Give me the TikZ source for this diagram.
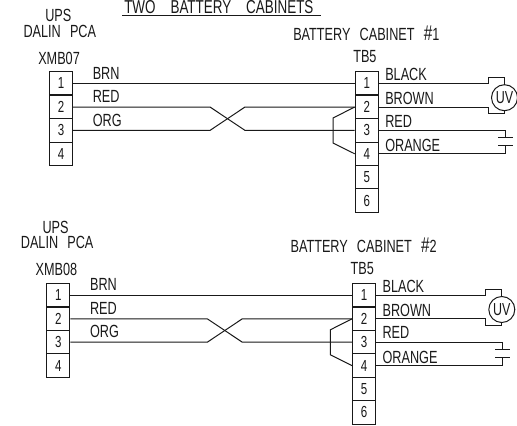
\documentclass[tikz,border=0pt]{standalone}
\usepackage{fontspec}
\setmainfont[FakeStretch=0.72]{Liberation Sans}
\newcommand{\wgap}{\hspace{0.52em}}
\tikzset{
  x=0.75pt,y=-0.75pt,
  wire/.style={line width=0.75pt,black!90},
  cell/.style={draw,line width=0.75pt,black!90,minimum width=17.2pt,minimum height=17.55pt,inner sep=0pt,font=\fontsize{12}{12}\selectfont},
  lab/.style={anchor=base west,inner sep=0pt,text=black!90,font=\fontsize{13.2}{13.2}\selectfont},
  meter/.style={circle,draw,line width=0.75pt,black!90,minimum size=19.5pt,inner sep=0pt,font=\fontsize{13}{13}\selectfont},
}
\newcommand{\wiring}[4]{% shift x, shift y, connector, cabinet number
\begin{scope}[shift={(#1,#2)}]
  \node[lab] (ups#4) at (45,21.7) {UPS};
  \node[lab] (dalin#4) at (23.3,37) {DALIN\wgap PCA};
  \node[lab] (xmb#4) at (38,64) {#3};
  \node[lab] (cab#4) at (293,40.7) {BATTERY\wgap CABINET\wgap {\fontsize{16}{16}\selectfont\#}#4};
  \node[lab] (tb#4) at (353,62.7) {TB5};
  \foreach \n/\yy in {1/83.2,2/107,3/130.4,4/153.8}
    \node[cell] (l#4\n) at (61,\yy) {\n};
  \foreach \n/\yy in {1/83.2,2/107,3/130.4,4/153.8,5/177.2,6/200.6}
    \node[cell] (r#4\n) at (366.7,\yy) {\n};
  \node[lab] (brn#4) at (92.5,79) {BRN};
  \node[lab] (red#4) at (92.5,102.7) {RED};
  \node[lab] (org#4) at (92.5,126) {ORG};
  \node[lab] (black#4) at (385,80.7) {BLACK};
  \node[lab] (brown#4) at (385,104.7) {BROWN};
  \node[lab] (rd#4) at (385,127) {RED};
  \node[lab] (orange#4) at (385,151.7) {ORANGE};
  \node[meter] (uv#4) at (504.5,97.7) {UV};
  % crossing points
  \coordinate (xa#4) at (210,107);
  \coordinate (xb#4) at (210,130.4);
  \coordinate (xc#4) at (245,107);
  \coordinate (xd#4) at (245,130.4);
  % jumper
  \coordinate (ja#4) at (333,118);
  \coordinate (jb#4) at (333,143);
  % meter bracket
  \coordinate (ma#4) at (488,83.2);
  \coordinate (mb#4) at (488,77.7);
  \coordinate (mc#4) at (488,107);
  \coordinate (md#4) at (488,113.2);
  % capacitor
  \coordinate (ca#4) at (505.5,130.4);
  \coordinate (cb#4) at (505.5,137.5);
  \coordinate (cc#4) at (505.5,145.7);
  \coordinate (cd#4) at (505.5,153.8);
  \draw[wire] (l#41.east) -- (r#41.west);
  \draw[wire] (l#42.east) -- (xa#4) -- (xd#4) -- (r#43.west);
  \draw[wire] (l#43.east) -- (xb#4) -- (xc#4) -- (r#42.west);
  \draw[wire] (r#42.west) -- (ja#4) -- (jb#4) -- (r#44.west);
  \draw[wire] (r#41.east) -- (ma#4) -- (mb#4) -| (uv#4.north);
  \draw[wire] (r#42.east) -- (mc#4) -- (md#4) -| (uv#4.south);
  \draw[wire] (r#43.east) -- (ca#4) -- (cb#4);
  \draw[wire] (r#44.east) -- (cd#4) -- (cc#4);
  \draw[wire] ([xshift=-5.6pt]cb#4) -- ([xshift=5.6pt]cb#4);
  \draw[wire] ([xshift=-5.6pt]cc#4) -- ([xshift=5.6pt]cc#4);
\end{scope}}
\begin{document}
\begin{tikzpicture}
  \path[use as bounding box,clip] (0,0) rectangle (517,425);
  \fill[white] (0,0) rectangle (517,425);
  \node[lab,font=\fontsize{14}{14}\selectfont] (title) at (124,13) {TWO\hspace{0.8em}BATTERY\hspace{0.8em}CABINETS};
  \coordinate (ula) at (122,15);
  \coordinate (ulb) at (321,15);
  \draw[wire] (ula) -- (ulb);
  \wiring{0}{0}{XMB07}{1}
  \wiring{-2.7}{211.8}{XMB08}{2}
\end{tikzpicture}
\end{document}
